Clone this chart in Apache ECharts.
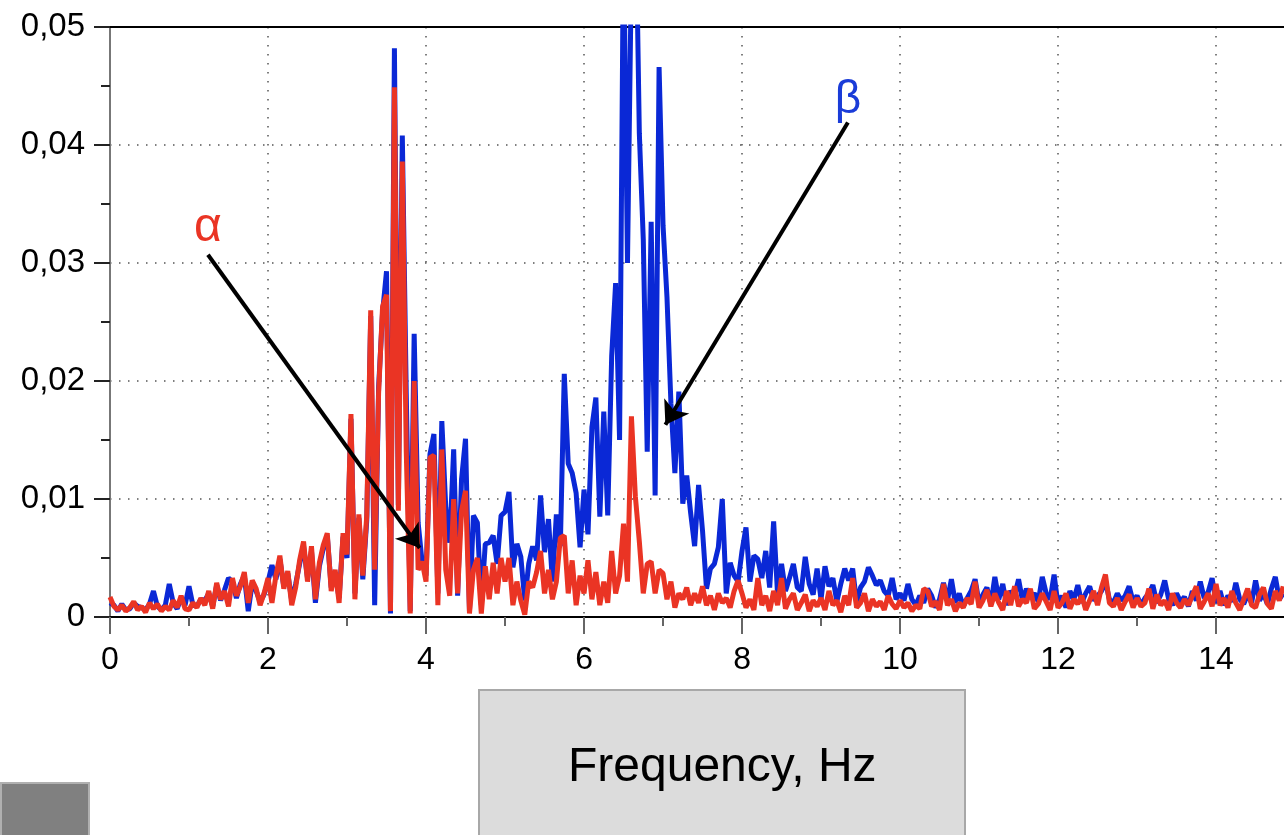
<!DOCTYPE html>
<html><head><meta charset="utf-8">
<script src="https://cdn.jsdelivr.net/npm/echarts@6/dist/echarts.min.js"></script>
<style>html,body{margin:0;padding:0;background:#fff}#c{width:1284px;height:835px}</style>
</head><body><div id="c"></div><script>
// Frequency grid step (Hz); values below are spectral amplitudes in units of 0.001
const FREQ_STEP = 0.05;
const X_MAX = 14.86;
const xTickLabels = [0, 2, 4, 6, 8, 10, 12, 14];
const xMinorTicks = [1, 3, 5, 7, 9, 11, 13];
const yTickLabels = ['0', '0,01', '0,02', '0,03', '0,04', '0,05'];
const xAxisTitle = 'Frequency, Hz';

// beta (blue), one array per 1 Hz band (20 samples each)
const blue0  = [1.2,1.0,0.5,1.1,0.6,0.7,1.2,0.9,0.8,0.6,1.1,2.2,0.9,0.6,1.0,2.8,1.2,0.7,1.6,1.0];
const blue1  = [2.6,1.0,0.9,1.5,1.4,2.0,0.9,2.7,1.4,2.3,3.3,3.0,1.6,2.8,3.5,0.5,2.9,2.2,1.3,1.9];
const blue2  = [3.0,4.4,3.2,4.9,2.6,3.7,1.4,2.8,4.5,6.0,3.3,5.6,1.2,4.3,5.8,6.9,2.5,3.7,1.6,6.8];
const blue3  = [5.0,16.8,2.0,8.4,3.2,8.2,25.5,1.0,19.5,25.8,29.3,0.3,48.2,9.5,40.8,18.9,0.5,24.0,8.0,4.7];
const blue4  = [3.5,13.8,15.5,2.0,16.6,9.3,6.3,14.2,1.8,11.7,15.1,0.5,8.6,8.0,1.0,6.2,6.3,6.9,4.5,8.6];
const blue5  = [8.9,10.6,4.2,6.2,5.1,1.4,4.5,6.0,4.8,10.3,5.5,8.3,3.0,8.7,6.0,20.6,13.0,12.2,10.5,5.9];
const blue6  = [10.8,7.0,16.1,18.6,8.5,17.4,8.6,22.1,28.3,15.0,58,30,55,62,41.0,32.0,14.0,33.5,10.3,46.6];
const blue7  = [33.2,27.1,18.1,12.2,19.1,9.6,12.0,8.8,6.0,11.2,7.3,2.4,4.1,4.5,5.9,10.0,2.0,4.6,3.5,3.0];
const blue8  = [5.6,7.6,3.0,5.2,4.9,3.3,5.6,2.5,8.1,1.9,4.5,2.2,3.3,4.5,2.5,2.2,5.1,2.8,1.9,4.1];
const blue9  = [1.5,4.3,2.6,3.3,1.3,2.8,4.1,3.1,4.1,1.2,2.5,3.0,4.2,3.5,2.7,3.1,2.2,1.8,3.3,1.5];
const blue10 = [2.0,1.4,2.8,1.5,1.0,1.8,1.2,2.4,1.8,0.8,1.5,2.9,1.4,3.2,1.2,2.0,0.9,1.6,2.2,3.2];
const blue11 = [1.2,1.9,2.5,1.1,3.4,1.5,2.8,1.0,2.2,1.8,3.2,1.4,2.4,1.6,2.0,1.3,3.4,2.0,1.5,3.6];
const blue12 = [1.0,1.8,0.8,2.2,1.5,2.7,1.2,2.0,2.6,1.4,1.8,2.2,3.0,1.5,1.2,2.0,1.4,1.8,2.6,1.3];
const blue13 = [1.8,1.0,1.6,2.0,2.7,1.2,1.9,3.1,1.5,1.0,2.0,1.3,1.7,0.9,2.2,1.4,3.0,1.6,2.1,3.3];
const blue14 = [1.2,2.2,1.0,1.8,1.3,2.9,1.5,1.1,1.9,1.2,3.1,1.4,2.0,1.1,2.4,3.4,1.5,2.0];

// alpha (red)
const red0  = [1.7,0.9,0.6,1.0,0.5,0.8,1.3,0.6,0.9,0.4,1.2,0.7,1.1,0.5,0.9,0.6,1.4,0.8,1.8,0.7];
const red1  = [0.6,1.2,0.8,1.6,1.0,2.2,0.7,2.9,1.5,2.2,0.9,3.3,1.8,2.6,3.8,1.2,3.1,2.4,1.0,2.0];
const red2  = [3.3,1.2,3.5,5.2,2.4,3.9,1.0,2.5,4.8,6.4,3.0,6.0,1.5,4.6,6.1,7.1,2.2,4.0,1.2,7.1];
const red3  = [5.3,17.2,1.5,8.7,3.5,8.6,26.0,4.0,19.0,26.3,27.3,0.5,44.9,9.0,38.6,14.0,0.3,20.0,4.0,4.7];
const red4  = [3.0,13.5,13.7,1.0,14.2,4.0,1.8,10.0,2.0,9.0,10.7,0.3,4.0,5.0,0.3,4.3,1.5,4.6,2.0,5.0];
const red5  = [3.0,5.0,1.0,3.0,1.4,0.2,3.0,2.5,3.8,5.6,2.0,4.0,1.5,3.0,6.7,6.9,2.0,4.8,1.0,3.5];
const red6  = [2.0,4.8,1.5,3.8,1.0,3.0,1.2,5.6,2.0,3.5,7.9,3.0,17.0,10.2,6.4,2.0,4.5,4.7,2.0,4.0];
const red7  = [3.7,1.5,3.0,0.8,2.0,1.5,2.5,1.0,2.0,1.2,2.6,1.0,1.8,0.6,2.0,1.2,1.6,0.8,2.2,3.1];
const red8  = [2.0,0.8,1.5,0.6,3.3,1.0,1.8,0.5,2.2,1.0,3.3,0.7,1.5,2.0,0.6,1.2,1.9,0.5,1.4,0.9];
const red9  = [1.6,0.6,2.2,1.0,1.4,0.4,1.8,1.0,3.3,0.8,1.2,2.0,0.5,1.5,0.9,1.3,0.6,1.8,1.1,0.7];
const red10 = [1.4,0.8,1.2,0.5,1.0,0.7,2.4,2.2,0.9,1.3,0.6,2.8,1.0,1.5,0.5,1.2,0.8,1.6,1.1,3.0];
const red11 = [0.8,1.4,2.3,0.9,2.0,1.2,0.6,2.2,1.0,2.6,0.9,1.5,1.2,2.4,0.7,1.1,2.0,1.3,0.6,2.2];
const red12 = [0.8,1.2,2.0,0.7,1.5,1.1,1.8,0.6,1.4,2.2,1.0,2.5,3.6,1.2,0.9,1.6,0.6,1.3,1.9,0.8];
const red13 = [1.6,0.9,1.2,2.4,0.7,1.9,1.0,1.4,0.6,2.0,1.2,0.8,1.5,1.0,1.8,2.6,0.7,1.3,2.0,0.9];
const red14 = [2.8,1.0,1.6,0.8,2.2,1.2,0.6,1.5,2.4,1.0,0.8,1.9,2.5,1.1,0.7,2.2,1.4,2.6];

// annotations (data coordinates: Hz, 0.001)
const alphaArrow = [[1.24, 30.7], [3.92, 5.85]];
const betaArrow  = [[9.34, 41.9], [7.03, 16.3]];
const alphaLabelAt = [1.24, 33.0];
const betaLabelAt  = [9.34, 43.8];

const blueValues = [].concat(blue0,blue1,blue2,blue3,blue4,blue5,blue6,blue7,blue8,blue9,blue10,blue11,blue12,blue13,blue14);
const redValues  = [].concat(red0,red1,red2,red3,red4,red5,red6,red7,red8,red9,red10,red11,red12,red13,red14);
const toPairs = vals => vals.map((v, i) => [Math.round(i * FREQ_STEP * 100) / 100, v]);

const FONT = 'Liberation Sans';
const BLUE = '#0a28d6';
const RED = '#ea3424';
const dotted = { color: '#555', width: 1.5, type: [1.5, 7.5] };

const chart = echarts.init(document.getElementById('c'), null, { renderer: 'canvas' });
chart.setOption({
  animation: false,
  backgroundColor: '#fff',
  textStyle: { fontFamily: FONT },
  title: {
    text: xAxisTitle, left: 479, top: 690,
    padding: [54, 89, 80, 89],
    backgroundColor: '#dcdcdc', borderColor: '#a8a8a8', borderWidth: 2,
    textStyle: { fontSize: 48, fontWeight: 'normal', fontFamily: FONT, color: '#000' }
  },
  graphic: [{
    type: 'rect', left: 0, top: 782, shape: { width: 88, height: 70 },
    style: { fill: '#808080', stroke: '#b0b0b0', lineWidth: 2 }, silent: true
  }],
  grid: { left: 110, right: 0, top: 27, bottom: 218, containLabel: false },
  xAxis: [{
    type: 'value', min: 0, max: X_MAX, interval: 2, position: 'bottom',
    axisLine: { show: true, onZero: false, lineStyle: { color: '#000', width: 2 } },
    axisTick: { show: true, length: 17, lineStyle: { color: '#666', width: 2 }, customValues: xTickLabels },
    axisLabel: { show: true, fontSize: 32, color: '#000', margin: 27, fontFamily: FONT,
      customValues: xTickLabels, formatter: v => String(v) },
    splitLine: { show: true, lineStyle: dotted }
  }, {
    type: 'value', min: 0, max: X_MAX, position: 'bottom', gridIndex: 0,
    axisLine: { show: false },
    axisTick: { show: true, length: 9, lineStyle: { color: '#666', width: 2 }, customValues: xMinorTicks },
    axisLabel: { show: false }, splitLine: { show: false }
  }, {
    type: 'value', min: 0, max: X_MAX, position: 'top', gridIndex: 0,
    axisLine: { show: true, onZero: false, lineStyle: { color: '#000', width: 2 } },
    axisTick: { show: false }, axisLabel: { show: false }, splitLine: { show: false }
  }],
  yAxis: {
    type: 'value', min: 0, max: 50, interval: 10,
    axisLine: { show: true, lineStyle: { color: '#777', width: 2 } },
    axisTick: { show: true, length: 16, lineStyle: { color: '#222', width: 2 } },
    minorTick: { show: true, splitNumber: 2, length: 9, lineStyle: { color: '#222', width: 2 } },
    axisLabel: { fontSize: 33, color: '#000', margin: 25, fontFamily: FONT,
      formatter: v => yTickLabels[Math.round(v / 10)] },
    splitLine: { show: true, lineStyle: dotted }
  },
  series: [{
    name: 'β', type: 'line', data: toPairs(blueValues), showSymbol: false, z: 2,
    lineStyle: { color: BLUE, width: 5 }, itemStyle: { color: BLUE }, clip: true, silent: true
  }, {
    name: 'α', type: 'line', data: toPairs(redValues), showSymbol: false, z: 3,
    lineStyle: { color: RED, width: 5 }, itemStyle: { color: RED }, clip: true, silent: true,
    markLine: {
      silent: true, symbol: ['none', 'arrow'], symbolSize: 22, precision: 4,
      lineStyle: { color: '#000', width: 4, type: 'solid' }, label: { show: false },
      emphasis: { disabled: true },
      data: [
        [{ coord: alphaArrow[0] }, { coord: alphaArrow[1] }],
        [{ coord: betaArrow[0] }, { coord: betaArrow[1] }]
      ]
    },
    markPoint: {
      silent: true, symbol: 'circle', symbolSize: 1, itemStyle: { color: 'rgba(0,0,0,0)' },
      data: [
        { coord: alphaLabelAt, label: { show: true, position: 'inside', formatter: 'α', color: RED, fontSize: 48, fontFamily: FONT } },
        { coord: betaLabelAt, label: { show: true, position: 'inside', formatter: 'β', color: '#1a3cd8', fontSize: 46, fontFamily: FONT } }
      ]
    }
  }]
});
</script></body></html>
